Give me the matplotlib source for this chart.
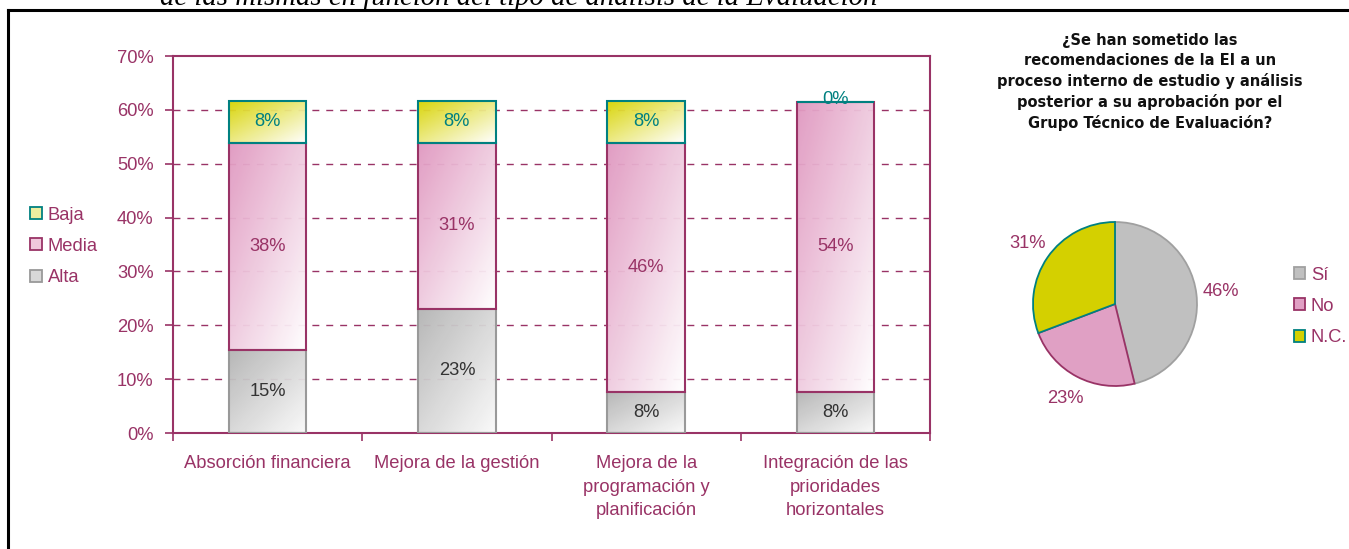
import numpy as np
import matplotlib
matplotlib.use("Agg")
import matplotlib.pyplot as plt
from matplotlib.patches import Patch
from matplotlib.colors import LinearSegmentedColormap

plt.rcParams['font.family'] = ['Liberation Sans', 'DejaVu Sans']

# data (percent)
categories = ["Absorción financiera", "Mejora de la gestión",
              "Mejora de la\nprogramación y\nplanificación",
              "Integración de las\nprioridades\nhorizontales"]
alta = [15.4, 23.1, 7.7, 7.7]
media = [38.5, 30.8, 46.2, 53.8]
baja = [7.7, 7.7, 7.7, 0.0]
alta_labels = ["15%", "23%", "8%", "8%"]
media_labels = ["38%", "31%", "46%", "54%"]
baja_labels = ["8%", "8%", "8%", "0%"]

pie_labels = ["Sí", "No", "N.C."]
pie_values = [46.2, 23.1, 30.8]
pie_pct = ["46%", "23%", "31%"]
pie_title = ("¿Se han sometido las\nrecomendaciones de la EI a un\n"
             "proceso interno de estudio y análisis\nposterior a su aprobación por el\n"
             "Grupo Técnico de Evaluación?")

PURPLE = "#993366"
TEAL = "#008080"
GREY = "#999999"
YELLOW = "#D4D000"
PINK = "#E0A0C4"
SILVER = "#C0C0C0"
FS = 13.2

W, H = 1349, 549
fig = plt.figure(figsize=(W / 100, H / 100), dpi=100)


def fx(px):
    return px / W


def fy(py):
    return 1 - py / H


# outer frame (only top and left are in view)
fig.add_artist(plt.Line2D([fx(8), 1], [fy(10), fy(10)], color="black", lw=2.2))
fig.add_artist(plt.Line2D([fx(8), fx(8)], [fy(10), 0], color="black", lw=2.2))
fig.text(fx(160), fy(5), "de las mismas en función del tipo de análisis de la Evaluación",
         family="Liberation Serif", style="italic", fontsize=20.7, va="baseline", ha="left")

# ---- stacked bars ----
ax = fig.add_axes([fx(173), fy(433), fx(930) - fx(173), fy(56) - fy(433)])
x = np.arange(len(categories))
width = 0.41


def grad_bar(xs, heights, bottoms, color, edge, fade):
    cmap = LinearSegmentedColormap.from_list("g", [color, fade])
    bars = ax.bar(xs, heights, width, bottom=bottoms, facecolor="none",
                  edgecolor=edge, linewidth=1.5, zorder=3)
    gy, gx = np.mgrid[0:1:60j, 0:1:60j]
    g = (gx + gy) / 2
    for b in bars:
        if b.get_height() <= 0:
            continue
        x0, y0 = b.get_x(), b.get_y()
        im = ax.imshow(g, cmap=cmap, extent=(x0, x0 + b.get_width(), y0, y0 + b.get_height()),
                       origin="upper", aspect="auto", zorder=2, alpha=0.95)
        im.set_clip_path(b)
    return bars


bottom2 = np.array(alta) + np.array(media)
grad_bar(x, alta, 0, "#B4B4B4", GREY, "#FAFAFA")
grad_bar(x, media, alta, "#E098C0", PURPLE, "#FFFFFF")
grad_bar(x, baja, bottom2, "#D8D400", TEAL, "#FFFFFF")

for i in range(len(categories)):
    ax.text(x[i], alta[i] / 2, alta_labels[i], ha="center", va="center", fontsize=FS, color="#333333", zorder=4)
    ax.text(x[i], alta[i] + media[i] / 2, media_labels[i], ha="center", va="center", fontsize=FS, color=PURPLE, zorder=4)
    ax.text(x[i], bottom2[i] + baja[i] / 2 + (0.4 if baja[i] == 0 else 0), baja_labels[i],
            ha="center", va="center", fontsize=FS, color=TEAL, zorder=4)

ax.set_xlim(-0.5, len(categories) - 0.5)
ax.set_ylim(0, 70)
ax.set_yticks(np.arange(0, 71, 10))
ax.set_yticklabels([f"{v}%" for v in range(0, 71, 10)])
for v in range(10, 70, 10):
    ax.axhline(v, color=PURPLE, lw=1, dashes=(5, 5), zorder=1)
ax.set_xticks(np.arange(-0.5, len(categories)))
ax.set_xticklabels([])
ax.set_xticks(x, minor=True)
ax.set_xticklabels(categories, minor=True, linespacing=1.5)
ax.tick_params(axis="x", which="major", length=6, width=1.2, color=PURPLE, direction="out")
ax.tick_params(axis="x", which="minor", length=0, pad=16, labelsize=FS, labelcolor=PURPLE)
ax.tick_params(axis="y", length=6, width=1.2, color=PURPLE, labelsize=FS, labelcolor=PURPLE, pad=8)
for s in ax.spines.values():
    s.set_color(PURPLE)
    s.set_linewidth(1.5)

fig.legend(handles=[Patch(facecolor="#EEEEA0", edgecolor=TEAL, lw=1.3),
                    Patch(facecolor="#F0C8DC", edgecolor=PURPLE, lw=1.3),
                    Patch(facecolor="#D8D8D8", edgecolor=GREY, lw=1.3)],
           labels=["Baja", "Media", "Alta"], loc="upper left",
           bbox_to_anchor=(fx(14), fy(190)), frameon=False, fontsize=FS,
           labelcolor=PURPLE, handlelength=0.65, handleheight=0.65,
           handletextpad=0.3, labelspacing=0.78)

# ---- pie ----
pax = fig.add_axes([fx(1115 - 82), fy(304 + 82), fx(164), 164 / H])
wedges, texts = pax.pie(pie_values, labels=pie_pct, colors=[SILVER, PINK, YELLOW],
                        startangle=90, counterclock=False, labeldistance=1.3,
                        wedgeprops=dict(linewidth=1.3),
                        textprops=dict(color=PURPLE, fontsize=FS))
for w, ec in zip(wedges, ["#A0A0A0", PURPLE, TEAL]):
    w.set_edgecolor(ec)
for t in texts:
    t.set_ha("center")
    t.set_va("center")
pax.set_xlim(-1, 1)
pax.set_ylim(-1, 1)
pax.set_aspect("equal")

fig.text(fx(1150), fy(33), pie_title, ha="center", va="top", fontsize=10.5,
         fontweight="bold", family="DejaVu Sans", linespacing=1.4, color="#111111")

fig.legend(handles=[Patch(facecolor=SILVER, edgecolor="#A0A0A0", lw=1.3),
                    Patch(facecolor=PINK, edgecolor=PURPLE, lw=1.3),
                    Patch(facecolor=YELLOW, edgecolor=TEAL, lw=1.3)],
           labels=pie_labels, loc="upper left",
           bbox_to_anchor=(fx(1277), fy(250)), frameon=False, fontsize=FS,
           labelcolor=PURPLE, handlelength=0.65, handleheight=0.65,
           handletextpad=0.3, labelspacing=0.78)

fig.savefig("out.png", dpi=100)
